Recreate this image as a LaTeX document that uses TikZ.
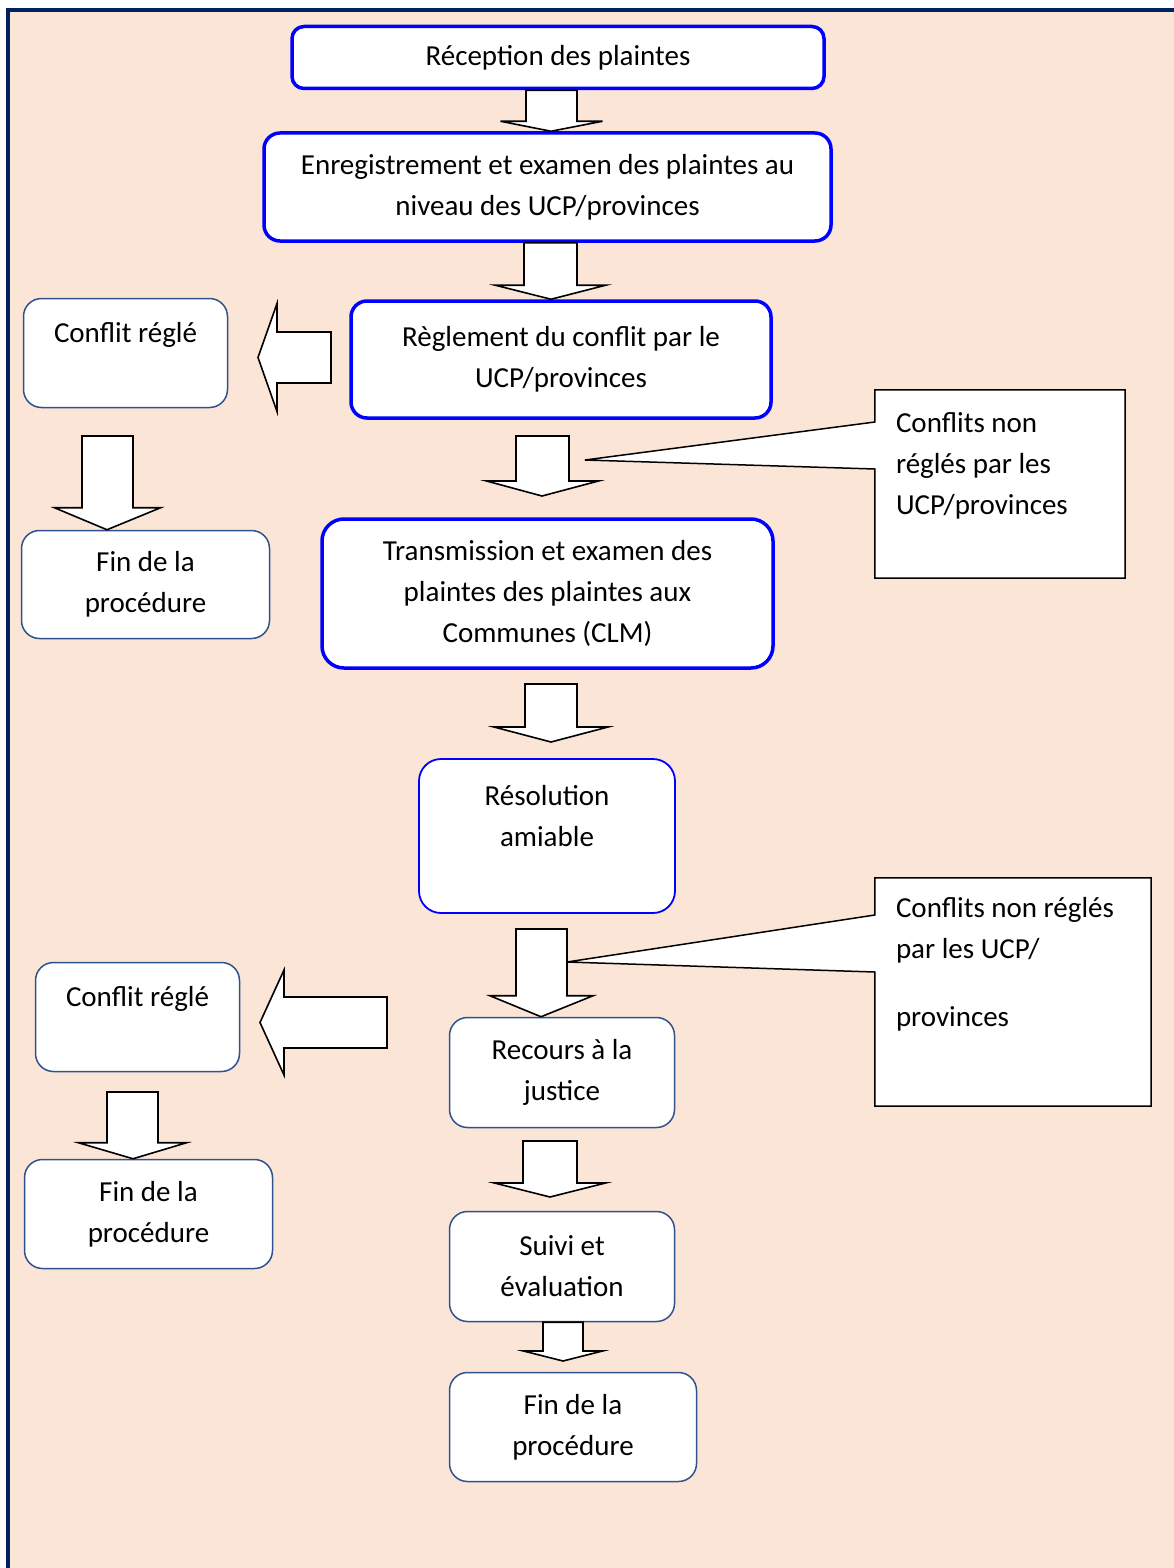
\documentclass[tikz,border=0pt]{standalone}
\usepackage{fontspec}
\setmainfont{Carlito}
\usetikzlibrary{calc}
\definecolor{peach}{HTML}{FBE5D6}
\definecolor{navy}{HTML}{002060}
\definecolor{steel}{HTML}{2F528F}
\pgfdeclarelayer{background}
\pgfsetlayers{background,main}
\tikzstyle{mainbox} = [rectangle, draw=blue, line width=3.5pt, fill=white,
    rounded corners=16pt, text centered, align=center]
\tikzstyle{midbox} = [mainbox, line width=1.8pt, rounded corners=22pt]
\tikzstyle{sidebox} = [rectangle, draw=steel, line width=1.5pt, fill=white,
    rounded corners=18pt, text centered, align=center]
\tikzstyle{note} = [rectangle, inner sep=0pt, align=flush left]
\tikzstyle{notebox} = [draw=black, line width=1.5pt, fill=white]
\tikzstyle{blk} = [draw=black, line width=1.6pt, fill=white, line join=miter]
% fat arrow pointing down: top, tip, half shaft, half head, head length
\newcommand{\downblk}[5]{%
  \path[blk] let \p1=(#1), \p2=(#2) in
    ({\x1-#3},\y1) -- ({\x1+#3},\y1) -- ({\x1+#3},{\y2+#5}) -- ({\x1+#4},{\y2+#5})
    -- (\x2,\y2) -- ({\x1-#4},{\y2+#5}) -- ({\x1-#3},{\y2+#5}) -- cycle;}
% fat arrow pointing left: tail, tip, half shaft, half head, head length
\newcommand{\leftblk}[5]{%
  \path[blk] let \p1=(#1), \p2=(#2) in
    (\x1,{\y1+#3}) -- ({\x2+#5},{\y1+#3}) -- ({\x2+#5},{\y1+#4}) -- (\x2,\y2)
    -- ({\x2+#5},{\y1-#4}) -- ({\x2+#5},{\y1-#3}) -- (\x1,{\y1-#3}) -- cycle;}

\begin{document}
\begin{tikzpicture}[x=1pt, y=-1pt, font=\fontsize{29}{41}\selectfont]
    \useasboundingbox (0,0) rectangle (1174,1568);

    % Page
    \begin{pgfonlayer}{background}
        \fill[white] (0,0) rectangle (1174,1568);
        \fill[peach] (8,10) rectangle (1174,1568);
        \draw[navy, line width=4.5pt] (8,1568) -- (8,10) -- (1174,10);
    \end{pgfonlayer}

    % Place nodes
    \node [mainbox, rounded corners=12pt, minimum width=532, minimum height=62] (recep) at (558,57.5) {Réception des plaintes};
    \node [mainbox, minimum width=567, minimum height=108] (enreg) at (547.5,187) {Enregistrement et examen des plaintes au\\niveau des UCP/provinces};
    \node [mainbox, minimum width=420, minimum height=117] (regl) at (561,359.5) {Règlement du conflit par le\\UCP/provinces};
    \node [sidebox, minimum width=204, minimum height=109] (ok1) at (125.5,353) {Conflit réglé\\\mbox{}};
    \node [sidebox, minimum width=248, minimum height=108] (fin1) at (145.5,584.5) {Fin de la\\procédure};
    \node [mainbox, rounded corners=22pt, minimum width=451, minimum height=149] (trans) at (547.5,593.5) {Transmission et examen des\\plaintes des plaintes aux\\Communes (CLM)};
    \node [midbox, minimum width=256, minimum height=154] (resol) at (547,836) {Résolution\\amiable\\\mbox{}};
    \node [sidebox, minimum width=204, minimum height=109] (ok2) at (137.5,1017) {Conflit réglé\\\mbox{}};
    \node [sidebox, minimum width=248, minimum height=109] (fin2) at (148.5,1214) {Fin de la\\procédure};
    \node [sidebox, minimum width=225, minimum height=110] (recours) at (562,1072.5) {Recours à la\\justice};
    \node [sidebox, minimum width=225, minimum height=110] (suivi) at (562,1266.5) {Suivi et\\évaluation};
    \node [sidebox, minimum width=247, minimum height=109] (fin3) at (573,1427) {Fin de la\\procédure};
    \node [note, text width=208, minimum width=250, minimum height=188] (noteA) at (1000,484) {Conflits non\\réglés par les\\UCP/provinces\\\mbox{}};
    \node [note, text width=234, minimum width=276, minimum height=228] (noteB) at (1013,992) {Conflits non réglés\\par les UCP/\\[27pt]provinces\\[20pt]\mbox{}};

    % Draw fat arrows
    \downblk{recep.south -| 551.5,0}{enreg.north -| 551,0}{25.5pt}{51pt}{10pt}
    \downblk{enreg.south -| 550.5,0}{regl.north -| 551,0}{26.5pt}{55pt}{14pt}
    \downblk{542.5,436}{542,496}{26.5pt}{56pt}{15pt}
    \downblk{551,684}{551,742}{26pt}{57pt}{15pt}
    \downblk{541.5,929}{recours.north -| 541,0}{25.5pt}{51.5pt}{21pt}
    \downblk{550,1141}{550,1197}{27pt}{55.5pt}{14pt}
    \downblk{suivi.south -| 563,0}{563,1361}{20pt}{39.5pt}{10pt}
    \downblk{107.5,436}{fin1.north -| 107,0}{25.5pt}{53pt}{22pt}
    \downblk{132.5,1092}{fin2.north -| 133,0}{25.5pt}{54pt}{16pt}
    \leftblk{331,357.5}{258,357.5}{25.5pt}{54pt}{19pt}
    \leftblk{387,1022.5}{260,1022.5}{25.5pt}{52.5pt}{24pt}

    % Callouts
    \coordinate (tipA) at (585,460);
    \coordinate (tipB) at (567,962);
    \begin{pgfonlayer}{background}
        \path[notebox] (noteA.north west) -- (noteA.north east) -- (noteA.south east) -- (noteA.south west)
            -- (noteA.west |- 0,469) -- (tipA) -- (noteA.west |- 0,422) -- cycle;
        \path[notebox] (noteB.north west) -- (noteB.north east) -- (noteB.south east) -- (noteB.south west)
            -- (noteB.west |- 0,972) -- (tipB) -- (noteB.west |- 0,915) -- cycle;
    \end{pgfonlayer}

\end{tikzpicture}
\end{document}
